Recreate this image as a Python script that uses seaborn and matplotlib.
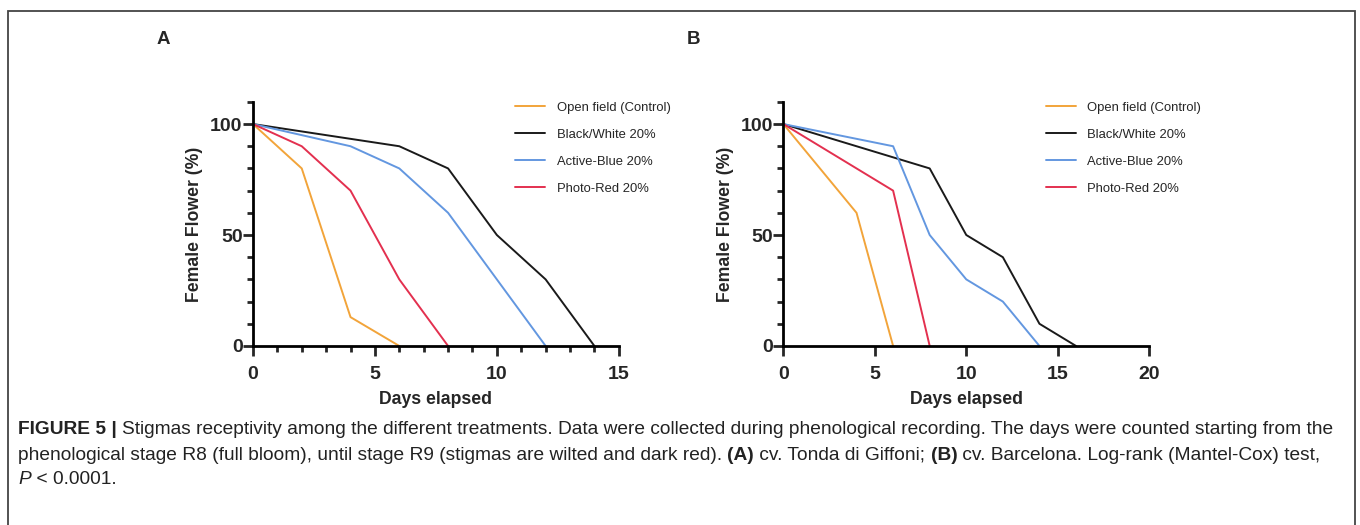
import matplotlib

matplotlib.use("Agg")
import matplotlib.pyplot as plt
import pandas as pd
import seaborn as sns
from matplotlib.patches import Rectangle
from matplotlib.ticker import MultipleLocator

treatments = ["Open field (Control)", "Black/White 20%", "Active-Blue 20%", "Photo-Red 20%"]
palette = ["#F2A43A", "#1A1A1A", "#6397E0", "#E3304F"]

# panel A: cv. Tonda di Giffoni
days_a = {
    "Open field (Control)": [0, 2, 4, 6],
    "Black/White 20%": [0, 6, 8, 10, 12, 14],
    "Active-Blue 20%": [0, 4, 6, 8, 12],
    "Photo-Red 20%": [0, 2, 4, 6, 8],
}
pct_a = {
    "Open field (Control)": [100, 80, 13, 0],
    "Black/White 20%": [100, 90, 80, 50, 30, 0],
    "Active-Blue 20%": [100, 90, 80, 60, 0],
    "Photo-Red 20%": [100, 90, 70, 30, 0],
}

# panel B: cv. Barcelona
days_b = {
    "Open field (Control)": [0, 4, 6],
    "Black/White 20%": [0, 8, 10, 12, 14, 16],
    "Active-Blue 20%": [0, 6, 8, 10, 12, 14],
    "Photo-Red 20%": [0, 6, 8],
}
pct_b = {
    "Open field (Control)": [100, 60, 0],
    "Black/White 20%": [100, 80, 50, 40, 10, 0],
    "Active-Blue 20%": [100, 90, 50, 30, 20, 0],
    "Photo-Red 20%": [100, 70, 0],
}


def to_long(days, pct):
    rows = []
    for t in treatments:
        for d, p in zip(days[t], pct[t]):
            rows.append({"treatment": t, "day": d, "pct": p})
    return pd.DataFrame(rows)


sns.set_style("ticks")
plt.rcParams["font.family"] = ["Liberation Sans", "DejaVu Sans"]

fig = plt.figure(figsize=(13.6, 5.25), dpi=100)
ax_a = fig.add_axes([0.186, 0.341, 0.269, 0.465])
ax_b = fig.add_axes([0.576, 0.341, 0.269, 0.465])

panels = [
    (ax_a, to_long(days_a, pct_a), 15, True),
    (ax_b, to_long(days_b, pct_b), 20, False),
]

for ax, df, xmax, xminor in panels:
    sns.lineplot(
        data=df, x="day", y="pct", hue="treatment", hue_order=treatments,
        palette=palette, linewidth=1.4, sort=False, estimator=None,
        ax=ax, legend=False,
    )
    ax.set_xlim(0, xmax)
    ax.set_ylim(0, 110)
    ax.set_xticks(range(0, xmax + 1, 5))
    ax.set_yticks([0, 50, 100])
    ax.yaxis.set_minor_locator(MultipleLocator(10))
    if xminor:
        ax.xaxis.set_minor_locator(MultipleLocator(1))
    for side in ["top", "right"]:
        ax.spines[side].set_visible(False)
    for side in ["left", "bottom"]:
        ax.spines[side].set_linewidth(2)
        ax.spines[side].set_color("black")
    ax.tick_params(which="major", direction="out", length=7, width=2,
                   labelsize=14)
    ax.tick_params(axis="x", which="major", pad=7.5)
    ax.tick_params(axis="y", which="major", pad=0.5)
    ax.tick_params(which="minor", direction="out", length=4.5, width=2)
    for lab in ax.get_xticklabels() + ax.get_yticklabels():
        lab.set_fontweight("bold")
    ax.set_xlabel("Days elapsed", fontsize=12.7, fontweight="bold", labelpad=6)
    ax.set_ylabel("Female Flower (%)", fontsize=12.7, fontweight="bold", labelpad=5)
    ax.patch.set_alpha(0)

    handles = ax.get_lines()[:4]
    ax.legend(handles, treatments, loc="upper left", frameon=False,
              bbox_to_anchor=(0.685, 1.05), fontsize=9.4, handlelength=2.3,
              labelspacing=1.15, handletextpad=0.9)

fig.text(163 / 1360, 1 - 40 / 525, "A", fontsize=13.5, fontweight="bold",
         ha="center", va="center")
fig.text(693 / 1360, 1 - 40 / 525, "B", fontsize=13.5, fontweight="bold",
         ha="center", va="center")

# outer frame
fig.patches.append(Rectangle((8 / 1360, -0.05), 1347 / 1360, 1.05 - 11 / 525,
                             transform=fig.transFigure, fill=False,
                             edgecolor="#444444", linewidth=1.3))

# caption with mixed bold / italic pieces
caption = [
    [("FIGURE 5 | ", "bold", "normal"),
     ("Stigmas receptivity among the different treatments. Data were collected during "
      "phenological recording. The days were counted starting from the", "normal", "normal")],
    [("phenological stage R8 (full bloom), until stage R9 (stigmas are wilted and dark red). ",
      "normal", "normal"),
     ("(A)", "bold", "normal"), (" cv. Tonda di Giffoni; ", "normal", "normal"),
     ("(B)", "bold", "normal"),
     (" cv. Barcelona. Log-rank (Mantel-Cox) test,", "normal", "normal")],
    [("P", "normal", "italic"), (" < 0.0001.", "normal", "normal")],
]
line_y = [430, 455, 479]
renderer = fig.canvas.get_renderer()
for pieces, y in zip(caption, line_y):
    x = 18
    for text, weight, style in pieces:
        t = fig.text(x / 1360, 1 - y / 525, text, fontsize=13.8, fontweight=weight,
                     fontstyle=style, color="#222222", va="center", ha="left")
        x += t.get_window_extent(renderer).width

fig.savefig("out.png", dpi=100, facecolor="white")
